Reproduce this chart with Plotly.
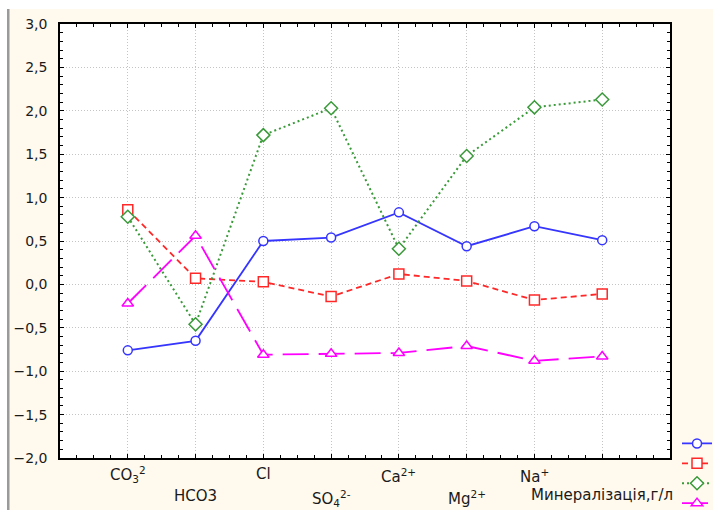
import plotly.graph_objects as go

# ---- data ----
categories = ["CO3", "HCO3", "Cl", "SO4", "Ca", "Mg", "Na", "Min"]
cat_labels = [
    "CO<sub>3</sub><sup>2</sup>",
    "HCO3",
    "Cl",
    "SO<sub>4</sub><sup>2-</sup>",
    "Ca<sup>2+</sup>",
    "Mg<sup>2+</sup>",
    "Na<sup>+</sup>",
    "Минералізація,г/л",
]
label_shift = [-16, -38, -16, -40, -18, -40, -18, -37]
x_pos = [1, 2, 3, 4, 5, 6, 7, 8]

series_blue = [-0.76, -0.65, 0.50, 0.54, 0.83, 0.44, 0.67, 0.51]
series_red = [0.86, 0.07, 0.03, -0.14, 0.12, 0.04, -0.18, -0.11]
series_green = [0.78, -0.46, 1.72, 2.03, 0.41, 1.48, 2.04, 2.13]
series_magenta = [-0.22, 0.56, -0.81, -0.80, -0.79, -0.71, -0.88, -0.83]

y_ticks = [-2.0, -1.5, -1.0, -0.5, 0.0, 0.5, 1.0, 1.5, 2.0, 2.5, 3.0]

# ---- figure ----
fig = go.Figure()

styles = [
    (series_blue, "#3535FF", "solid", "circle", 9, 1.8),
    (series_red, "#FF2828", "6px,4px", "square", 10, 1.8),
    (series_green, "#3A9A3A", "2px,3px", "diamond", 10, 2),
    (series_magenta, "#FF00FF", "26px,10px", "triangle-up", 10, 1.8),
]
for vals, col, dash, sym, size, lw in styles:
    fig.add_trace(go.Scatter(
        x=x_pos, y=vals, mode="lines+markers", name=" ",
        line=dict(color=col, width=lw, dash=dash),
        marker=dict(symbol=sym, size=size, color="white",
                    line=dict(color=col, width=1.5)),
    ))

for xv, lab, sh in zip(x_pos, cat_labels, label_shift):
    fig.add_annotation(
        x=xv, y=0, xref="x", yref="paper", text=lab, showarrow=False,
        yanchor="middle", xanchor="center", yshift=sh,
        font=dict(family="DejaVu Sans", size=15, color="#1A1A1A"),
    )

# window decorations (frame of the original screenshot)
fig.add_shape(type="rect", xref="paper", yref="paper",
              xsizemode="pixel", ysizemode="pixel", xanchor=0, yanchor=1,
              x0=-60, x1=700, y0=15, y1=30, fillcolor="white", line_width=0,
              layer="below")
fig.add_shape(type="rect", xref="paper", yref="paper",
              xsizemode="pixel", ysizemode="pixel", xanchor=0, yanchor=1,
              x0=-60, x1=-53, y0=-500, y1=30, fillcolor="white", line_width=0,
              layer="below")
fig.add_shape(type="rect", xref="paper", yref="paper",
              xsizemode="pixel", ysizemode="pixel", xanchor=0, yanchor=1,
              x0=-53, x1=-50.5, y0=-500, y1=15, fillcolor="#9A9A9A", line_width=0,
              layer="below")

axis_common = dict(
    showline=True, linecolor="black", linewidth=1.5, mirror="ticks",
    ticks="inside", ticklen=4, tickcolor="black", tickwidth=1,
    showgrid=True, gridcolor="#C4C4C4", griddash="1px,2px", gridwidth=1,
    zeroline=False,
)

fig.update_xaxes(
    range=[0, 9], tickvals=x_pos, showticklabels=False,
    minor=dict(dtick=0.25, tick0=0, ticks="inside", ticklen=3,
               tickcolor="black", showgrid=False),
    **axis_common,
)
fig.update_yaxes(
    range=[-2, 3], tickvals=y_ticks, tickformat=".1f",
    tickfont=dict(family="DejaVu Sans", size=14, color="#1A1A1A"),
    ticklabelstandoff=8,
    minor=dict(dtick=0.1, tick0=0, ticks="inside", ticklen=3,
               tickcolor="black", showgrid=False),
    **axis_common,
)

fig.update_layout(
    width=713, height=510,
    margin=dict(l=60, r=43, t=24, b=52, autoexpand=False),
    paper_bgcolor="#FFF9EE", plot_bgcolor="white",
    separators=", ",
    showlegend=True,
    legend=dict(x=1.0115, xanchor="left", y=0.068, yanchor="top",
                bgcolor="rgba(0,0,0,0)", font=dict(size=13),
                itemwidth=30, tracegroupgap=0),
)

fig.write_html("out.html")
